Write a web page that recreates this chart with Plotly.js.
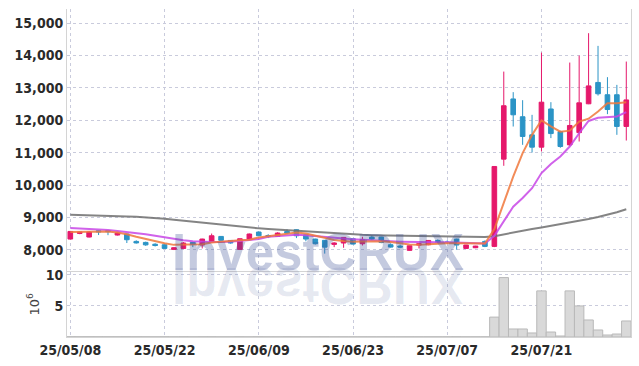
<!DOCTYPE html>
<html>
<head>
<meta charset="utf-8">
<script src="https://cdn.plot.ly/plotly-3.0.1.min.js"></script>
<style>html,body{margin:0;padding:0;background:#fff;}#chart{width:639px;height:366px;}</style>
</head>
<body>
<div id="chart"></div>
<script>
const dates = ['25/05/08','25/05/09','25/05/12','25/05/13','25/05/14','25/05/15','25/05/16','25/05/19','25/05/20','25/05/21',
'25/05/22','25/05/23','25/05/26','25/05/27','25/05/28','25/05/29','25/05/30','25/06/02','25/06/04','25/06/05',
'25/06/09','25/06/10','25/06/11','25/06/12','25/06/13','25/06/16','25/06/17','25/06/18','25/06/19','25/06/20',
'25/06/23','25/06/24','25/06/25','25/06/26','25/06/27','25/06/30','25/07/01','25/07/02','25/07/03','25/07/04',
'25/07/07','25/07/08','25/07/09','25/07/10','25/07/11','25/07/14','25/07/15','25/07/16','25/07/17','25/07/18',
'25/07/21','25/07/22','25/07/23','25/07/24','25/07/25','25/07/28','25/07/29','25/07/30','25/07/31','25/08/01'];

const openP = [8330,8503,8392,8587,8590,8454,8485,8257,8226,8170,
8154,8010,8040,8226,8145,8226,8411,8287,8010,8330,
8547,8440,8411,8565,8618,8463,8330,8290,8165,8207,
8340,8185,8390,8392,8154,8113,7980,8144,8154,8287,
8240,8330,8040,8062,8257,8103,10800,12660,12110,11550,
11170,12350,11650,11240,11620,12510,13170,12790,12790,11810];
const highP = [8580,8560,8570,8600,8610,8530,8500,8290,8250,8200,
8160,8080,8240,8240,8340,8500,8420,8300,8340,8500,
8560,8480,8540,8630,8630,8480,8340,8300,8230,8390,
8350,8400,8450,8400,8200,8160,8130,8200,8300,8320,
8290,8340,8150,8120,8290,10573,13506,12870,12622,12169,
14093,12560,11680,13785,14000,14692,14300,13333,13095,13816];
const lowP = [8320,8480,8380,8454,8450,8440,8207,8190,8120,8100,
8040,7990,8020,8080,8040,8220,8280,8190,8000,8320,
8420,8360,8400,8480,8360,8260,8160,7880,8080,8060,
8160,8130,8290,8200,8060,8050,7970,8040,8140,8200,
8180,8000,8030,8050,8080,8080,10594,11808,11242,11004,
11036,11450,11150,11200,11345,12500,12765,12190,11551,11375];
const closeP = [8565,8547,8547,8550,8560,8515,8309,8210,8150,8130,
8040,8062,8207,8175,8330,8432,8290,8207,8340,8485,
8432,8400,8515,8515,8432,8330,8185,8080,8207,8380,
8175,8309,8330,8226,8082,8082,8123,8185,8287,8226,
8220,8145,8145,8113,8103,10573,12450,12170,11500,11170,
12560,11590,11190,11840,12540,13064,12820,12333,11810,12630];

const ma5 = [8550,8550,8545,8555,8560,8530,8480,8400,8330,8260,
8200,8150,8150,8150,8170,8220,8250,8270,8290,8310,
8380,8420,8460,8500,8530,8500,8440,8370,8300,8270,
8250,8255,8265,8260,8240,8200,8160,8150,8170,8190,
8200,8200,8190,8180,8190,8640,9470,10260,10985,11550,
12000,11810,11650,11680,11960,12050,12270,12530,12530,12560];
const ma20 = [8670,8660,8645,8630,8610,8580,8550,8510,8480,8430,
8380,8330,8290,8260,8240,8235,8240,8250,8270,8300,
8330,8400,8420,8440,8460,8450,8430,8400,8380,8350,
8320,8300,8280,8270,8260,8250,8240,8235,8230,8230,
8230,8220,8210,8200,8190,8430,8880,9330,9600,9900,
10370,10650,10880,11190,11600,11980,12080,12100,12120,12250];
const ma60 = [9080,9075,9070,9060,9050,9040,9030,9020,9005,8985,
8960,8930,8900,8870,8830,8790,8760,8730,8700,8680,
8660,8640,8620,8600,8580,8560,8540,8520,8500,8480,
8470,8460,8450,8445,8440,8430,8425,8420,8415,8410,
8405,8400,8395,8390,8390,8420,8480,8540,8590,8640,
8690,8740,8780,8840,8890,8950,9010,9080,9160,9250];

const volume = [0.05,0.04,0.05,0.04,0.04,0.04,0.05,0.04,0.04,0.03,
0.04,0.03,0.04,0.03,0.04,0.04,0.03,0.03,0.04,0.03,
0.04,0.03,0.03,0.04,0.03,0.03,0.04,0.04,0.03,0.03,
0.03,0.03,0.03,0.03,0.03,0.03,0.03,0.03,0.03,0.03,
0.03,0.04,0.03,0.03,0.03,3.2,9.56,1.29,1.29,0.65,
7.42,0.8,0.16,7.42,5.0,2.74,1.13,0.32,0.48,2.58];

const xTicks = ['25/05/08','25/05/22','25/06/09','25/06/23','25/07/07','25/07/21'];
const yTicks = [8000,9000,10000,11000,12000,13000,14000,15000];
const volTicks = [5,10];

const RED = '#e5186b', BLUE = '#2b94c6';
const tickFont = {family:'"DejaVu Sans Condensed","DejaVu Sans",sans-serif', size:14, weight:'bold', color:'#2a2a2a'};
const gridC = '#c9cbdc', lineC = '#d4d4d4';

const traces = [
  {type:'bar', x:dates, y:volume, xaxis:'x', yaxis:'y2',
   marker:{color:'#d9d9d9', line:{color:'#b9b9b9', width:1}}, hoverinfo:'skip'},
  {type:'candlestick', x:dates, open:openP, high:highP, low:lowP, close:closeP, xaxis:'x', yaxis:'y',
   increasing:{line:{color:RED, width:1}, fillcolor:RED},
   decreasing:{line:{color:BLUE, width:1}, fillcolor:BLUE}, hoverinfo:'skip'},
  {type:'scatter', mode:'lines', x:dates, y:ma60, line:{color:'rgba(110,110,110,0.85)', width:2}, hoverinfo:'skip'},
  {type:'scatter', mode:'lines', x:dates, y:ma20, line:{color:'rgba(200,70,230,0.85)', width:2}, hoverinfo:'skip'},
  {type:'scatter', mode:'lines', x:dates, y:ma5, line:{color:'rgba(240,120,60,0.85)', width:2}, hoverinfo:'skip'}
];

const layout = {
  width:639, height:366, showlegend:false,
  paper_bgcolor:'#fff', plot_bgcolor:'#fff',
  margin:{l:67, r:8, t:9, b:29},
  bargap:0,
  xaxis:{type:'category', anchor:'y2', range:[-0.35,59.5], rangeslider:{visible:false},
    tickmode:'array', tickvals:xTicks, ticktext:xTicks, ticks:'', tickfont:tickFont,
    showgrid:true, gridcolor:gridC, griddash:'dot', gridwidth:1,
    showline:true, linecolor:lineC, mirror:true, zeroline:false},
  yaxis:{domain:[0.199,1], range:[7320,15440], tickmode:'array', tickvals:yTicks, tickformat:',d',
    tickfont:tickFont, ticks:'', showgrid:true, gridcolor:gridC, griddash:'dot',
    showline:true, linecolor:lineC, mirror:true, zeroline:false},
  yaxis2:{domain:[0,0.199], range:[0,10.5], tickmode:'array', tickvals:volTicks, tickfont:tickFont, ticks:'',
    showgrid:true, gridcolor:gridC, griddash:'dot', showline:true, linecolor:lineC, mirror:true, zeroline:false,
    title:{text:'10<sup>6</sup>', font:{family:'"DejaVu Sans",sans-serif', size:13, color:'#444'}, standoff:3}},
  annotations:[
    {text:'InvestCRUX', xref:'paper', yref:'paper', x:0.4456, y:0.259, xanchor:'center', yanchor:'middle',
     showarrow:false, font:{family:'"Liberation Sans",Arial,sans-serif', size:51, weight:'bold', color:'rgba(60,80,150,0.30)'}},
    {text:'InvestCRUX', xref:'paper', yref:'paper', x:0.4456, y:0.158, xanchor:'center', yanchor:'middle',
     showarrow:false, font:{family:'"Liberation Sans",Arial,sans-serif', size:51, weight:'bold', color:'rgba(60,80,150,0.13)'}}
  ]
};

Plotly.newPlot('chart', traces, layout, {staticPlot:true, displayModeBar:false}).then(function(){
  const anns = document.querySelectorAll('.annotation');
  if (anns.length > 1) {
    const t = anns[1].querySelector('text');
    if (t) { t.style.transformBox='fill-box'; t.style.transformOrigin='center'; t.style.transform='scaleY(-1)'; }
  }
});
</script>
</body>
</html>
